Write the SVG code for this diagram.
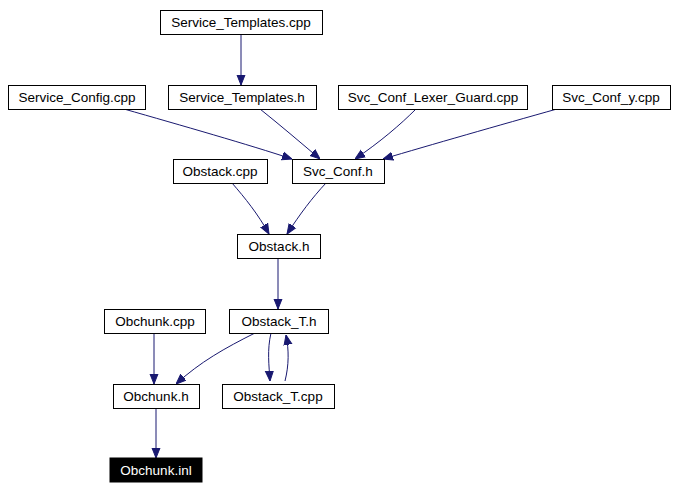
<svg xmlns="http://www.w3.org/2000/svg" width="679" height="490" viewBox="0 0 679 490">
<style>
.n rect{fill:#fff;stroke:#000;stroke-width:1}
.n text{font-family:"Liberation Sans",Arial,sans-serif;font-size:13.5px;text-anchor:middle;fill:#000}
.e path{fill:none;stroke:#191970;stroke-width:1}
</style>
<defs><marker id="a" viewBox="0 0 10 10" refX="10" refY="5" markerWidth="10" markerHeight="10" markerUnits="userSpaceOnUse" orient="auto"><path d="M0,1L10,5L0,9z" fill="#191970" stroke="#191970"/></marker></defs>
<rect width="679" height="490" fill="#fff"/>
<g class="e">
<path d="M241,34V85" marker-end="url(#a)"/>
<path d="M124,109C180,125 250,145 292,159" marker-end="url(#a)"/>
<path d="M260,109C280,125 300,142 320,159" marker-end="url(#a)"/>
<path d="M416,109C400,125 380,142 355,159" marker-end="url(#a)"/>
<path d="M557,109C500,125 430,145 383,159" marker-end="url(#a)"/>
<path d="M232,183C245,198 258,214 269,234" marker-end="url(#a)"/>
<path d="M326,183C312,198 300,214 287,234" marker-end="url(#a)"/>
<path d="M278,258V309" marker-end="url(#a)"/>
<path d="M154,333V384" marker-end="url(#a)"/>
<path d="M255,333C225,348 200,362 176,384" marker-end="url(#a)"/>
<path d="M271,333C267,350 269,365 270,381" marker-end="url(#a)"/>
<path d="M285,381C289,365 289,350 286,335" marker-end="url(#a)"/>
<path d="M156,408V458" marker-end="url(#a)"/>
</g>
<g id="n1" class="n"><rect x="160.5" y="10.5" width="162" height="24"/><text x="241" y="27">Service_Templates.cpp</text></g>
<g id="n2" class="n"><rect x="8.5" y="85.5" width="137" height="24"/><text x="77" y="102">Service_Config.cpp</text></g>
<g id="n3" class="n"><rect x="168.5" y="85.5" width="148" height="24"/><text x="242" y="102">Service_Templates.h</text></g>
<g id="n4" class="n"><rect x="338.5" y="85.5" width="189" height="24"/><text x="433" y="102">Svc_Conf_Lexer_Guard.cpp</text></g>
<g id="n5" class="n"><rect x="552.5" y="85.5" width="118" height="24"/><text x="611" y="102">Svc_Conf_y.cpp</text></g>
<g id="n6" class="n"><rect x="173.5" y="159.5" width="94" height="24"/><text x="220" y="176">Obstack.cpp</text></g>
<g id="n7" class="n"><rect x="292.5" y="159.5" width="92" height="24"/><text x="338" y="176">Svc_Conf.h</text></g>
<g id="n8" class="n"><rect x="237.5" y="234.5" width="83" height="24"/><text x="279" y="251">Obstack.h</text></g>
<g id="n9" class="n"><rect x="104.5" y="309.5" width="101" height="24"/><text x="155" y="326">Obchunk.cpp</text></g>
<g id="n10" class="n"><rect x="229.5" y="309.5" width="99" height="24"/><text x="279" y="326">Obstack_T.h</text></g>
<g id="n11" class="n"><rect x="113.5" y="384.5" width="86" height="24"/><text x="156" y="401">Obchunk.h</text></g>
<g id="n12" class="n"><rect x="222.5" y="384.5" width="112" height="24"/><text x="278" y="401">Obstack_T.cpp</text></g>
<g id="n13" class="n"><rect x="110" y="458" width="92" height="24" style="fill:#000;stroke:#000"/><text x="156" y="475" style="fill:#fff">Obchunk.inl</text></g>
</svg>
